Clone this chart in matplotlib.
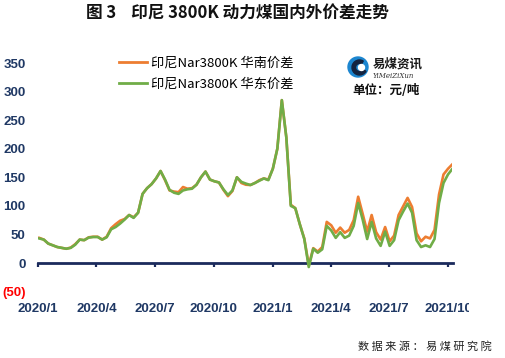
import matplotlib
matplotlib.use("Agg")
import matplotlib.pyplot as plt
from matplotlib.patches import Circle, Wedge
from matplotlib.transforms import Bbox
import pandas as pd

# ---------------- data ----------------
dates = pd.date_range("2020-01-03", periods=93, freq="7D")
south = [44, 41, 34, 31, 28, 26.5, 25, 27, 33, 41, 40, 45, 46, 46, 41, 46, 61, 68, 74, 77,
         84, 80, 88, 121, 131, 138, 148, 161, 145, 127, 125, 124, 133, 130, 131, 137, 150, 160, 146, 143,
         141, 128, 117, 126, 150, 140, 137, 136.5, 140, 145, 148, 146, 165, 200, 285, 220, 102, 96, 68, 43,
         -4, 26, 20, 28, 72, 66, 53, 62, 53, 58, 75, 116, 86, 55, 84, 54, 41, 63, 38, 48,
         84, 99, 114, 98, 52, 38, 46, 43, 58, 120, 155, 165, 173]
east = [43, 41, 34, 31, 28, 26.5, 25, 26.5, 32, 41, 40, 44.5, 45.5, 45.5, 41, 45, 59, 63, 69, 76,
        84, 79, 88, 121, 131, 138, 148, 161, 146, 128, 123, 121, 127, 129, 130, 137, 150, 160, 146, 143,
        141, 129, 119, 127, 150, 142, 139, 136.5, 140, 144, 148, 145, 165, 200, 285, 220, 100, 96, 68, 42,
        -7, 25, 18, 24, 65, 57, 44, 54, 44, 48, 65, 105, 76, 42, 72, 43, 30, 55, 30, 40,
        75, 90, 104, 88, 40, 28, 31, 28, 42, 105, 140, 155, 165]
series_labels = ["印尼Nar3800K 华南价差", "印尼Nar3800K 华东价差"]
ytick_vals = [-50, 0, 50, 100, 150, 200, 250, 300, 350]
ytick_labels = ["(50)", "0", "50", "100", "150", "200", "250", "300", "350"]
xtick_dates = pd.to_datetime(["2020-01-01", "2020-04-01", "2020-07-01", "2020-10-01",
                              "2021-01-01", "2021-04-01", "2021-07-01", "2021-10-01"])
xtick_labels = ["2020/1", "2020/4", "2020/7", "2020/10", "2021/1", "2021/4", "2021/7", "2021/10"]

# ---------------- style ----------------
CJK = ["Noto Sans CJK SC", "DejaVu Sans"]
NAVY = "#1F3864"
AXIS = "#1B2A5C"
ORANGE = "#ED7D31"
GREEN = "#70AD47"

W, H = 505, 358
fig = plt.figure(figsize=(W / 100, H / 100), dpi=100)
fig.patch.set_facecolor("white")

left_px, right_px, top_px, bot_px = 38, 452.5, 63, 291.6
ax = fig.add_axes([left_px / W, 1 - bot_px / H, (right_px - left_px) / W, (bot_px - top_px) / H])

ax.plot(dates, south, color=ORANGE, lw=1.9, label=series_labels[0], solid_joinstyle="round")
ax.plot(dates, east, color=GREEN, lw=1.9, label=series_labels[1], solid_joinstyle="round")

ax.set_xlim(pd.Timestamp("2020-01-01"), dates[-1])
ax.set_ylim(-50, 350)

for s in ["top", "right", "left"]:
    ax.spines[s].set_visible(False)
ax.spines["bottom"].set_position(("data", 0))
ax.spines["bottom"].set_color(AXIS)
ax.spines["bottom"].set_linewidth(2.0)
ax.spines["bottom"].set_zorder(1)

ax.set_xticks(xtick_dates, xtick_labels)
ax.tick_params(axis="x", direction="out", length=3, width=1.6, color=AXIS, pad=25.5,
               labelsize=9.5, labelcolor=NAVY)
clip_box = Bbox([[0, 0], [469, H]])
for tick in ax.xaxis.get_major_ticks():
    lab = tick.label1
    lab.set_fontfamily(["Liberation Sans", "DejaVu Sans"])
    lab.set_fontweight("bold")
    lab.set_clip_on(True)
    lab.set_clip_box(clip_box)

ax.set_yticks(ytick_vals, ytick_labels)
ax.tick_params(axis="y", length=0, pad=9, labelsize=9.5, labelcolor=NAVY)
for lab in ax.get_yticklabels():
    lab.set_fontfamily(["Liberation Sans", "DejaVu Sans"])
    lab.set_fontweight("bold")
    if lab.get_text().startswith("("):
        lab.set_color("#FF0000")

leg = ax.legend(loc="upper left", bbox_to_anchor=(119 / W, 1 - 57 / H), bbox_transform=fig.transFigure,
                frameon=False, prop={"family": CJK, "size": 9.5}, handlelength=2.15,
                handletextpad=0.3, labelspacing=0.55, borderaxespad=0, borderpad=0)
for line in leg.get_lines():
    line.set_linewidth(2.0)

# title
fig.text(237 / W, 1 - 14 / H, "图 3    印尼 3800K 动力煤国内外价差走势", ha="center", va="center",
         fontsize=12, fontweight="bold", family=CJK, color="#111111")

# logo
lax = fig.add_axes([(358 - 11) / W, 1 - (67 + 11) / H, 22 / W, 22 / H])
lax.set_xlim(-1.1, 1.1)
lax.set_ylim(-1.1, 1.1)
lax.set_aspect("equal")
lax.axis("off")
lax.add_patch(Circle((0, 0), 1.0, color="#1C86D0"))
lax.add_patch(Wedge((0.15, -0.05), 0.75, 60, 330, width=0.35, color="#14233F"))
lax.add_patch(Circle((0.35, -0.05), 0.3, color="white"))
fig.text(373 / W, 1 - 64 / H, "易煤资讯", ha="left", va="center", fontsize=9, fontweight="bold",
         family=CJK, color="#1A1A1A")
fig.text(373 / W, 1 - 76 / H, "YiMeiZiXun", ha="left", va="center", fontsize=5,
         family=["DejaVu Serif"], style="italic", color="#333333")
fig.text(386 / W, 1 - 90 / H, "单位：元/吨", ha="center", va="center", fontsize=9, fontweight="bold",
         family=CJK, color="#111111")

# source
fig.text(492 / W, 1 - 346 / H, "数 据 来 源 ： 易 煤 研 究 院", ha="right", va="center", fontsize=8,
         family=CJK, color="#222222")

fig.savefig("out.png", dpi=100, facecolor="white")
